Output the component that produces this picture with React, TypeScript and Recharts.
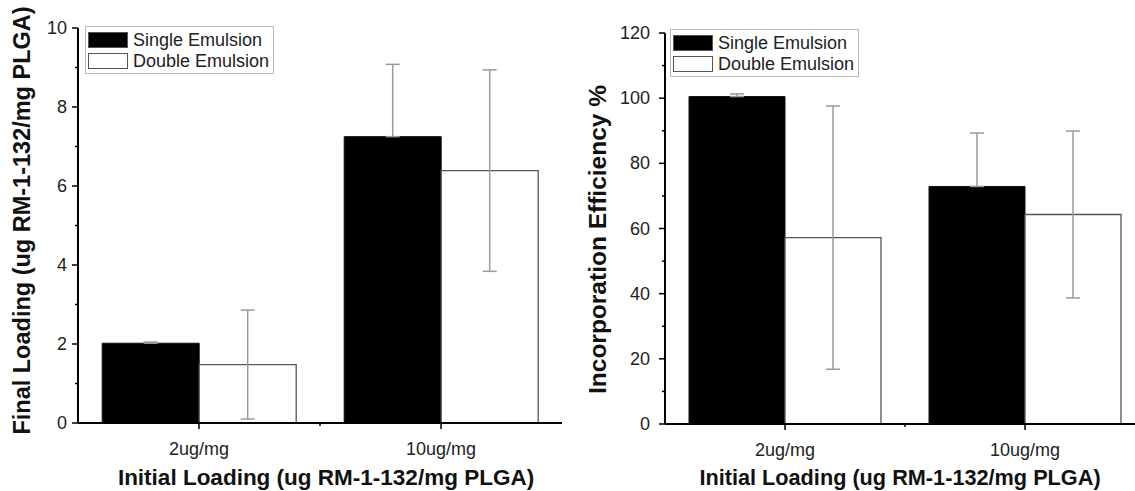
import React from "react";
import { Bar, BarChart, ErrorBar, Label, Legend, XAxis, YAxis } from "recharts";

const CATEGORIES = ["2ug/mg", "10ug/mg"];
const SERIES_NAMES = ["Single Emulsion", "Double Emulsion"];

// final loading, ug RM-1-132 per mg PLGA
const LOADING_SINGLE = [2.02, 7.25];
const LOADING_SINGLE_ERR = [0.03, 1.83];
const LOADING_DOUBLE = [1.48, 6.39];
const LOADING_DOUBLE_ERR = [1.38, 2.55];

// incorporation efficiency, %
const EFF_SINGLE = [100.5, 72.9];
const EFF_SINGLE_ERR = [0.8, 16.4];
const EFF_DOUBLE = [57.2, 64.3];
const EFF_DOUBLE_ERR = [40.4, 25.6];

const LOADING_TICKS = [0, 1, 2, 3, 4, 5, 6, 7, 8, 9, 10];
const EFF_TICKS = [0, 10, 20, 30, 40, 50, 60, 70, 80, 90, 100, 110, 120];

const X_TITLE = "Initial Loading (ug RM-1-132/mg PLGA)";
const LOADING_TITLE = "Final Loading (ug RM-1-132/mg PLGA)";
const EFF_TITLE = "Incorporation Efficiency %";

const FONT = '"Liberation Sans", Arial, Helvetica, sans-serif';

// the black bars only show the upper half of their error bar
const buildRows = (single: number[], singleErr: number[], dbl: number[], dblErr: number[]) =>
  CATEGORIES.map((cat, i) => ({
    cat,
    single: single[i],
    singleErr: [0, singleErr[i]],
    double: dbl[i],
    doubleErr: dblErr[i],
  }));

const loadingRows = buildRows(LOADING_SINGLE, LOADING_SINGLE_ERR, LOADING_DOUBLE, LOADING_DOUBLE_ERR);
const effRows = buildRows(EFF_SINGLE, EFF_SINGLE_ERR, EFF_DOUBLE, EFF_DOUBLE_ERR);

function YTick(props: any) {
  const { x, y, payload, major, gap } = props;
  const isMajor = payload.value % major === 0;
  return (
    <g>
      <line x1={x - (isMajor ? 6 : 3)} x2={x} y1={y} y2={y} stroke="#000" strokeWidth={1.5} />
      {isMajor && (
        <text x={x - gap} y={y} textAnchor="end" dominantBaseline="central"
              fontSize={18} fontFamily={FONT} fill="#222">
          {payload.value}
        </text>
      )}
    </g>
  );
}

function XTick(props: any) {
  const { x, y, payload, index, visibleTicksCount, width } = props;
  const half = width / visibleTicksCount / 2;
  return (
    <g>
      <line x1={x} x2={x} y1={y} y2={y + 6} stroke="#000" strokeWidth={1.5} />
      {index < visibleTicksCount - 1 && (
        <line x1={x + half} x2={x + half} y1={y} y2={y + 3} stroke="#000" strokeWidth={1.5} />
      )}
      <text x={x} y={y + 32} textAnchor="middle" fontSize={18} fontFamily={FONT} fill="#222">
        {payload.value}
      </text>
    </g>
  );
}

function YTitle(props: any) {
  const { viewBox, text, dx, dy, size } = props;
  const cx = viewBox.x + dx;
  const cy = viewBox.y + viewBox.height / 2 + dy;
  return (
    <text x={cx} y={cy} transform={`rotate(-90 ${cx} ${cy})`} textAnchor="middle"
          dominantBaseline="central" fontSize={size} fontWeight="bold" fontFamily={FONT} fill="#111">
      {text}
    </text>
  );
}

function XTitle(props: any) {
  const { viewBox, text, dx, dy, size } = props;
  const cx = viewBox.x + viewBox.width / 2 + dx;
  return (
    <text x={cx} y={viewBox.y + dy} textAnchor="middle" fontSize={size} fontWeight="bold"
          fontFamily={FONT} fill="#111">
      {text}
    </text>
  );
}

function LegendBox() {
  return (
    <div style={{
      boxSizing: "border-box", border: "1.5px solid #bbb", padding: "2px 4px 2px 2px",
      background: "#fff", fontFamily: FONT, fontSize: 18, color: "#222",
    }}>
      {SERIES_NAMES.map((name, i) => (
        <div key={name} style={{ display: "flex", alignItems: "center", height: 21 }}>
          <div style={{
            boxSizing: "border-box", width: 40, height: 16,
            background: i === 0 ? "#000" : "#fff", border: "1px solid #555",
          }} />
          <span style={{ marginLeft: 5, lineHeight: "18px", whiteSpace: "nowrap" }}>{name}</span>
        </div>
      ))}
    </div>
  );
}

interface PanelProps {
  rows: any[];
  ticks: number[];
  major: number;
  yMax: number;
  yTitle: string;
  left: number;
  width: number;
  top: number;
  axisHeight: number;
  axisWidth: number;
  rightMargin: number;
  labelGap: number;
  yTitleDx: number;
  yTitleDy: number;
  yTitleSize: number;
  xTitleDx: number;
  xTitleDy: number;
  xTitleSize: number;
  legendLeft: number;
  legendTop: number;
}

function Panel(p: PanelProps) {
  return (
    <div style={{ position: "absolute", left: p.left, top: 0 }}>
      <BarChart width={p.width} height={491} data={p.rows} barCategoryGap="10%" barGap={0}
                margin={{ top: p.top, right: p.rightMargin, bottom: 0, left: 0 }}>
        <XAxis dataKey="cat" height={p.axisHeight} interval={0} tickSize={0} tickMargin={0}
               tickLine={false} axisLine={{ stroke: "#000", strokeWidth: 2 }}
               tick={(t: any) => <XTick {...t} />}>
          <Label content={(l: any) => (
            <XTitle {...l} text={X_TITLE} dx={p.xTitleDx} dy={p.xTitleDy} size={p.xTitleSize} />
          )} />
        </XAxis>
        <YAxis type="number" domain={[0, p.yMax]} ticks={p.ticks} interval={0} width={p.axisWidth}
               tickSize={0} tickMargin={0} tickLine={false}
               axisLine={{ stroke: "#000", strokeWidth: 2 }}
               tick={(t: any) => <YTick {...t} major={p.major} gap={p.labelGap} />}>
          <Label content={(l: any) => (
            <YTitle {...l} text={p.yTitle} dx={p.yTitleDx} dy={p.yTitleDy} size={p.yTitleSize} />
          )} />
        </YAxis>
        <Legend layout="vertical" align="center" verticalAlign="middle"
                wrapperStyle={{ left: p.legendLeft, top: p.legendTop, width: "auto", height: "auto" }}
                content={() => <LegendBox />} />
        <Bar dataKey="single" name={SERIES_NAMES[0]} fill="#000" stroke="#111" strokeWidth={1}
             isAnimationActive={false}>
          <ErrorBar dataKey="singleErr" width={7} stroke="#9a9a9a" strokeWidth={1.5}
                    direction="y" isAnimationActive={false} />
        </Bar>
        <Bar dataKey="double" name={SERIES_NAMES[1]} fill="#fff" stroke="#555" strokeWidth={1.3}
             isAnimationActive={false}>
          <ErrorBar dataKey="doubleErr" width={7} stroke="#9a9a9a" strokeWidth={1.5}
                    direction="y" isAnimationActive={false} />
        </Bar>
      </BarChart>
    </div>
  );
}

export default function App() {
  return (
    <div style={{
      position: "absolute", left: 0, top: 0, width: 1135, height: 491,
      overflow: "hidden", background: "#fff",
    }}>
      <Panel rows={loadingRows} ticks={LOADING_TICKS} major={2} yMax={10} yTitle={LOADING_TITLE}
             left={0} width={570} top={28} axisHeight={68} axisWidth={78} rightMargin={8}
             labelGap={11} yTitleDx={22} yTitleDy={-5} yTitleSize={23.5}
             xTitleDx={6} xTitleDy={62} xTitleSize={22.5} legendLeft={85} legendTop={26} />
      <Panel rows={effRows} ticks={EFF_TICKS} major={20} yMax={120} yTitle={EFF_TITLE}
             left={560} width={600} top={33} axisHeight={67} axisWidth={105} rightMargin={15}
             labelGap={15} yTitleDx={37} yTitleDy={11} yTitleSize={24.5}
             xTitleDx={-5} xTitleDy={61} xTitleSize={21.7} legendLeft={110} legendTop={29} />
    </div>
  );
}
